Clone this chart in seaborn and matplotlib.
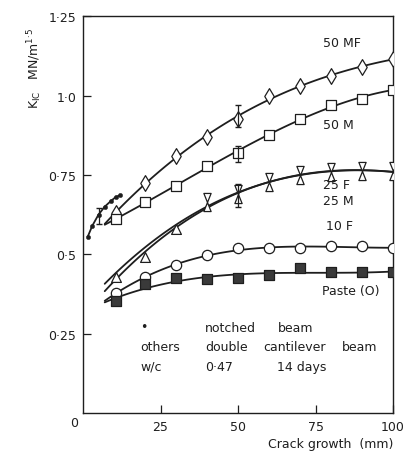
import numpy as np
import pandas as pd
import matplotlib
matplotlib.use("Agg")
import matplotlib.pyplot as plt
import seaborn as sns

# double cantilever beam results, w/c 0.47, 14 days
crack = [10.5, 20, 30, 40, 50, 60, 70, 80, 90, 100]
k_50mf = [0.63, 0.723, 0.81, 0.87, 0.927, 0.997, 1.03, 1.063, 1.09, 1.115]
k_50m = [0.61, 0.664, 0.715, 0.778, 0.82, 0.877, 0.925, 0.969, 0.99, 1.019]
k_25f = [0.447, 0.51, 0.59, 0.664, 0.69, 0.728, 0.75, 0.76, 0.762, 0.762]
k_25m = [0.43, 0.49, 0.58, 0.664, 0.69, 0.728, 0.75, 0.76, 0.762, 0.762]
k_10f = [0.377, 0.428, 0.465, 0.497, 0.519, 0.519, 0.519, 0.525, 0.525, 0.519]
k_paste = [0.352, 0.406, 0.424, 0.421, 0.424, 0.434, 0.456, 0.443, 0.443, 0.443]

# notched beam
notch_x = [1.5, 3, 5, 7, 9, 10.5, 12]
notch_k = [0.555, 0.59, 0.625, 0.65, 0.668, 0.68, 0.686]

# scatter bars
err_x = [50, 50, 50, 5]
err_mid = [0.927, 0.82, 0.69, 0.62]
err_lo = [0.90, 0.79, 0.65, 0.594]
err_hi = [0.97, 0.84, 0.72, 0.645]

ink = "#1e1e1e"

sns.set_style("ticks")
plt.rcParams["font.family"] = ["DejaVu Sans"]
plt.rcParams["mathtext.default"] = "regular"

fig = plt.figure(figsize=(4.12, 4.52), dpi=100)
ax = fig.add_axes([0.2015, 0.084, 0.7525, 0.878])

# half triangles meeting at the point -> hourglass when both drawn
tri_below = [(0, 0), (-0.8, -2), (0.8, -2), (0, 0)]
tri_above = [(0, 0), (-0.8, 2), (0.8, 2), (0, 0)]

# curves fitted through each series
for k in [k_50mf, k_50m, k_25f, k_25m, k_10f, k_paste]:
    coef = np.polyfit(crack, k, 3)
    xs = np.linspace(crack[0] - 3.5, 100, 120)
    sns.lineplot(x=xs, y=np.polyval(coef, xs), ax=ax, color=ink, lw=1.3,
                 sort=False, zorder=2)

# (x, y, marker, face, size)
marks = [
    (crack, k_50mf, "d", "white", 64),
    (crack, k_50m, "s", "white", 46),
    (crack[:3], k_25m[:3], "^", "white", 50),
    (crack[3:], k_25f[3:], tri_above, "white", 170),
    (crack[3:], k_25m[3:], tri_below, "white", 170),
    (crack, k_10f, "o", "white", 55),
    (crack, k_paste, "s", "#3a3a3a", 46),
]
for x, k, mk, face, size in marks:
    sns.scatterplot(x=x, y=k, ax=ax, marker=mk, s=size,
                    color=face, edgecolor=ink, linewidth=0.9, zorder=3)

sns.lineplot(x=notch_x, y=notch_k, ax=ax, color=ink, lw=1.3, zorder=2)
sns.scatterplot(x=notch_x, y=notch_k, ax=ax, color=ink, s=10,
                edgecolor=ink, zorder=3)

err = np.array([np.array(err_mid) - np.array(err_lo),
                np.array(err_hi) - np.array(err_mid)])
ax.errorbar(err_x, err_mid, yerr=err, fmt="none", ecolor=ink,
            elinewidth=0.9, capsize=2.5, zorder=4)

labels = [
    (77.4, 1.167, "50 MF"),
    (77.4, 0.909, "50 M"),
    (77.4, 0.72, "25 F"),
    (77.4, 0.67, "25 M"),
    (78.4, 0.591, "10 F"),
    (77.0, 0.387, "Paste (O)"),
]
for x, y, t in labels:
    ax.text(x, y, t, fontsize=9, ha="left", va="center", color=ink)

notes = [
    (18.4, 0.272, "•"),
    (39.4, 0.27, "notched"), (62.9, 0.27, "beam"),
    (18.4, 0.208, "others"), (39.4, 0.208, "double"),
    (58.0, 0.208, "cantilever"), (83.5, 0.208, "beam"),
    (18.4, 0.148, "w/c"), (39.4, 0.148, "0·47"), (62.6, 0.148, "14 days"),
]
for x, y, t in notes:
    ax.text(x, y, t, fontsize=9, ha="left", va="center", color=ink)

ax.set_xlim(0, 100)
ax.set_ylim(0, 1.25)
ax.set_xticks([25, 50, 75, 100])
ax.set_xticklabels(["25", "50", "75", "100"])
ax.set_yticks([0.25, 0.5, 0.75, 1.0, 1.25])
ax.set_yticklabels(["0·25", "0·5", "0·75", "1·0", "1·25"])
ax.text(-0.03, -0.024, "0", transform=ax.transAxes, fontsize=9,
        ha="center", va="center", color=ink)
ax.tick_params(direction="in", length=6, width=0.9, labelsize=9,
               colors=ink, pad=5)

ax.set_xlabel("Crack growth  (mm)", fontsize=9, loc="right", color=ink,
              labelpad=3)
ax.set_ylabel("K$_{IC}$   MN/m$^{1·5}$", fontsize=9, color=ink)
ax.yaxis.set_label_coords(-0.125, 0.87)

for sp in ax.spines.values():
    sp.set_visible(True)
    sp.set_linewidth(1.0)
    sp.set_color(ink)

fig.savefig("out.png", dpi=100)
